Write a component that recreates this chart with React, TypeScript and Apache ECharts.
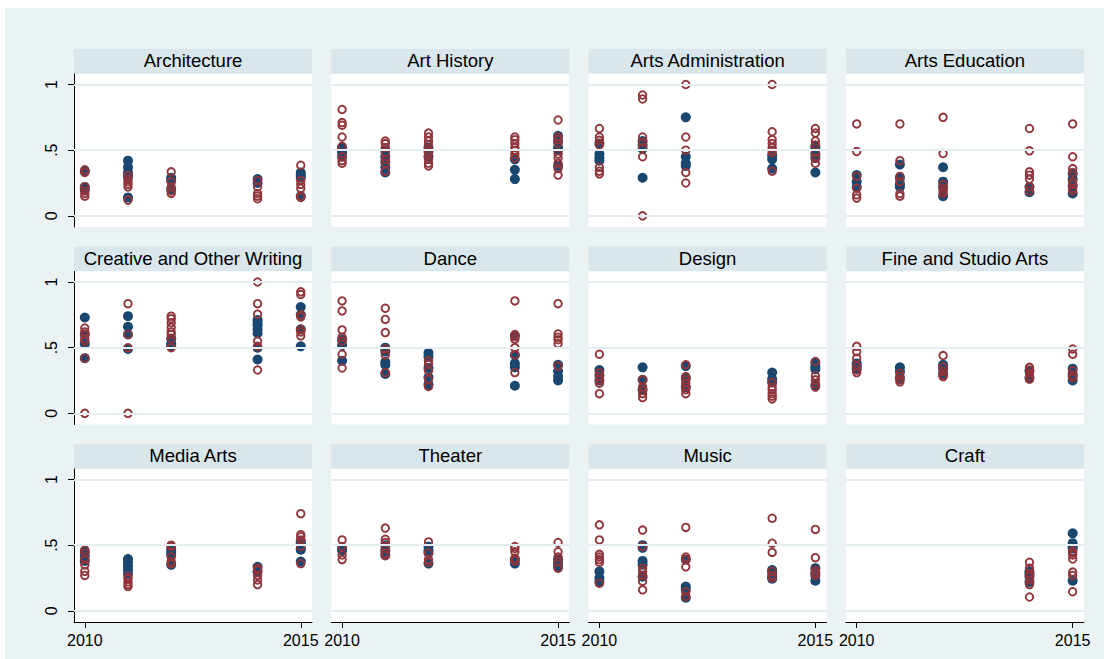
import React, { useEffect, useRef } from "react";
import * as echarts from "echarts";

// ---------- data ----------
const years = [2010, 2011, 2012, 2014, 2015];
const xTickValues = [2010, 2015];
const yTickValues = [0, 0.5, 1];
const yTickLabels = ["0", ".5", "1"];

const panelTitles = [
  "Architecture", "Art History", "Arts Administration", "Arts Education",
  "Creative and Other Writing", "Dance", "Design", "Fine and Studio Arts",
  "Media Arts", "Theater", "Music", "Craft",
];

// values per year (same order as `years`)
const architectureBlue = [[0.34, 0.22, 0.20], [0.42, 0.37, 0.33, 0.30, 0.14], [0.29, 0.27, 0.20], [0.28, 0.25], [0.33, 0.31, 0.29, 0.15]];
const architectureRed = [[0.35, 0.33, 0.22, 0.19, 0.17, 0.15], [0.31, 0.28, 0.26, 0.24, 0.22, 0.12], [0.335, 0.26, 0.22, 0.19, 0.17], [0.27, 0.22, 0.17, 0.15, 0.13], [0.385, 0.27, 0.24, 0.21, 0.15, 0.14]];

const artHistoryBlue = [[0.52, 0.50, 0.48, 0.45], [0.50, 0.45, 0.41, 0.37, 0.33], [0.52, 0.49, 0.45], [0.43, 0.35, 0.28], [0.61, 0.57, 0.52, 0.50, 0.38]];
const artHistoryRed = [[0.81, 0.71, 0.69, 0.60, 0.53, 0.45, 0.42, 0.40], [0.57, 0.55, 0.52, 0.48, 0.43, 0.40, 0.34], [0.63, 0.60, 0.57, 0.54, 0.50, 0.47, 0.43, 0.40, 0.38], [0.60, 0.58, 0.55, 0.52, 0.50, 0.47, 0.44], [0.73, 0.60, 0.58, 0.55, 0.47, 0.44, 0.40, 0.36, 0.31]];

const artsAdminBlue = [[0.55, 0.47, 0.44, 0.42], [0.57, 0.54, 0.51, 0.29], [0.75, 0.45, 0.40, 0.38], [0.46, 0.43, 0.36], [0.53, 0.51, 0.47, 0.44, 0.33]];
const artsAdminRed = [[0.665, 0.60, 0.575, 0.54, 0.37, 0.34, 0.32], [0.92, 0.89, 0.60, 0.56, 0.52, 0.45, 0.0], [1.0, 0.60, 0.50, 0.33, 0.25], [1.0, 0.64, 0.58, 0.55, 0.52, 0.50, 0.48, 0.34], [0.665, 0.63, 0.57, 0.54, 0.48, 0.44, 0.40]];

const artsEducationBlue = [[0.31, 0.26, 0.22], [0.39, 0.29, 0.24, 0.22], [0.37, 0.26, 0.22, 0.15], [0.22, 0.18], [0.32, 0.28, 0.23, 0.17]];
const artsEducationRed = [[0.70, 0.49, 0.30, 0.21, 0.16, 0.135], [0.70, 0.42, 0.30, 0.26, 0.17, 0.15], [0.75, 0.475, 0.24, 0.21, 0.19, 0.17], [0.665, 0.495, 0.335, 0.31, 0.28, 0.22, 0.19], [0.70, 0.45, 0.36, 0.33, 0.26, 0.24, 0.21, 0.19]];

const writingBlue = [[0.73, 0.60, 0.53, 0.42], [0.74, 0.66, 0.60, 0.49], [0.57, 0.53, 0.51], [0.71, 0.69, 0.67, 0.64, 0.61, 0.50, 0.41], [0.81, 0.75, 0.64, 0.51]];
const writingRed = [[0.65, 0.62, 0.60, 0.57, 0.55, 0.42, 0.0], [0.835, 0.60, 0.50, 0.0], [0.74, 0.72, 0.69, 0.655, 0.62, 0.60, 0.57, 0.50], [1.0, 0.835, 0.755, 0.55, 0.51, 0.33], [0.925, 0.905, 0.75, 0.735, 0.64, 0.62, 0.59]];

const danceBlue = [[0.56, 0.52, 0.40], [0.50, 0.47, 0.39, 0.37, 0.30], [0.46, 0.43, 0.345, 0.275, 0.22], [0.59, 0.445, 0.38, 0.35, 0.21], [0.37, 0.32, 0.28, 0.25]];
const danceRed = [[0.856, 0.78, 0.635, 0.58, 0.55, 0.45, 0.345], [0.80, 0.715, 0.615, 0.49, 0.445, 0.31], [0.40, 0.375, 0.325, 0.26, 0.205], [0.856, 0.60, 0.585, 0.565, 0.50, 0.445, 0.31], [0.835, 0.605, 0.58, 0.56, 0.53, 0.36]];

const designBlue = [[0.33, 0.29, 0.25], [0.35, 0.255, 0.18], [0.36, 0.27, 0.20], [0.31, 0.26, 0.235], [0.385, 0.355, 0.335, 0.21]];
const designRed = [[0.45, 0.31, 0.28, 0.255, 0.23, 0.15], [0.255, 0.20, 0.175, 0.15, 0.12], [0.37, 0.28, 0.255, 0.23, 0.205, 0.18, 0.15], [0.235, 0.20, 0.18, 0.15, 0.13, 0.11], [0.395, 0.285, 0.255, 0.225, 0.20]];

const fineArtsBlue = [[0.38, 0.36, 0.34], [0.35, 0.32, 0.27], [0.37, 0.34, 0.30], [0.325, 0.27], [0.34, 0.30, 0.28, 0.25]];
const fineArtsRed = [[0.51, 0.47, 0.42, 0.36, 0.33, 0.31], [0.305, 0.28, 0.255, 0.24], [0.44, 0.355, 0.32, 0.29, 0.28], [0.35, 0.33, 0.305, 0.28, 0.26], [0.49, 0.45, 0.325, 0.29, 0.27]];

const mediaArtsBlue = [[0.45, 0.42, 0.38], [0.395, 0.37, 0.34, 0.31, 0.28], [0.475, 0.45, 0.425, 0.35], [0.335, 0.30], [0.53, 0.515, 0.475, 0.465, 0.375]];
const mediaArtsRed = [[0.465, 0.44, 0.39, 0.35, 0.30, 0.27], [0.26, 0.245, 0.22, 0.20, 0.185], [0.50, 0.49, 0.41, 0.375, 0.36], [0.325, 0.31, 0.27, 0.235, 0.20], [0.74, 0.58, 0.565, 0.54, 0.49, 0.36]];

const theaterBlue = [[0.475, 0.46], [0.50, 0.46, 0.425], [0.49, 0.46, 0.44, 0.36], [0.39, 0.36], [0.39, 0.36, 0.335]];
const theaterRed = [[0.54, 0.49, 0.425, 0.39], [0.63, 0.545, 0.52, 0.475, 0.44, 0.42], [0.525, 0.44, 0.39, 0.37], [0.49, 0.475, 0.45, 0.40, 0.38], [0.52, 0.45, 0.41, 0.375, 0.325]];

const musicBlue = [[0.30, 0.25, 0.22], [0.50, 0.48, 0.38, 0.35, 0.26], [0.39, 0.185, 0.16, 0.10], [0.31, 0.29, 0.26, 0.245], [0.325, 0.29, 0.27, 0.23]];
const musicRed = [[0.655, 0.54, 0.43, 0.41, 0.39, 0.37, 0.21], [0.615, 0.49, 0.325, 0.30, 0.27, 0.225, 0.16], [0.635, 0.41, 0.39, 0.335, 0.145, 0.11], [0.705, 0.515, 0.445, 0.30, 0.27, 0.25], [0.62, 0.405, 0.31, 0.29, 0.27]];

const craftBlue = [[], [], [], [0.30, 0.28, 0.26, 0.22], [0.59, 0.515, 0.49, 0.475, 0.23]];
const craftRed = [[], [], [], [0.37, 0.325, 0.285, 0.26, 0.235, 0.20, 0.105], [0.455, 0.44, 0.425, 0.395, 0.295, 0.27, 0.145]];

const blueSets = [architectureBlue, artHistoryBlue, artsAdminBlue, artsEducationBlue, writingBlue, danceBlue, designBlue, fineArtsBlue, mediaArtsBlue, theaterBlue, musicBlue, craftBlue];
const redSets = [architectureRed, artHistoryRed, artsAdminRed, artsEducationRed, writingRed, danceRed, designRed, fineArtsRed, mediaArtsRed, theaterRed, musicRed, craftRed];

// ---------- style ----------
const BG = "#EAF2F3";
const STRIP = "#D9E6EB";
const GRIDLINE = "#E4EDF0";
const NAVY = "#1A476F";
const MAROON = "#90353B";
const FONT = "'Liberation Sans', Arial, sans-serif";

const COLS = 4;
const PLOT_LEFT0 = 74;
const COL_STEP = 257.3;
const PLOT_W = 238;
const PLOT_TOP0 = 74;
const ROW_STEP = 197.5;
const PLOT_H = 153;
const STRIP_H = 24.5;

function toPoints(sets: number[][]) {
  const pts: number[][] = [];
  sets.forEach((vals, i) => vals.forEach((v) => pts.push([years[i], v])));
  return pts;
}

function buildOption() {
  const grid: any[] = [];
  const xAxis: any[] = [];
  const yAxis: any[] = [];
  const series: any[] = [];
  const graphic: any[] = [
    { type: "rect", silent: true, z: -10, shape: { x: 0, y: 0, width: 1104, height: 8 }, style: { fill: "#fff" } },
    { type: "rect", silent: true, z: -10, shape: { x: 0, y: 0, width: 5, height: 659 }, style: { fill: "#fff" } },
  ];

  panelTitles.forEach((title, i) => {
    const r = Math.floor(i / COLS);
    const c = i % COLS;
    const left = PLOT_LEFT0 + c * COL_STEP;
    const top = PLOT_TOP0 + r * ROW_STEP;
    const isBottom = r === 2;
    const isLeft = c === 0;

    grid.push({ left, top, width: PLOT_W, height: PLOT_H, show: true, backgroundColor: "#fff", borderWidth: 0 });

    xAxis.push({
      type: "value", gridIndex: i, min: 2009.75, max: 2015.26,
      splitLine: { show: false },
      axisLine: { show: isBottom, onZero: false, lineStyle: { color: "#000", width: 1 } },
      axisTick: { show: isBottom, customValues: xTickValues, length: 6, lineStyle: { color: "#000" } },
      axisLabel: { show: isBottom, customValues: xTickValues, fontSize: 16, color: "#000", fontFamily: FONT, margin: 10, formatter: (v: number) => String(v) },
    });

    yAxis.push({
      type: "value", gridIndex: i, min: -0.085, max: 1.08,
      splitLine: { show: false },
      axisLine: { show: isLeft, onZero: false, lineStyle: { color: "#000", width: 1 } },
      axisTick: { show: isLeft, customValues: yTickValues, length: 6, lineStyle: { color: "#000" } },
      axisLabel: {
        show: isLeft, customValues: yTickValues, rotate: 90, fontSize: 16, color: "#000", fontFamily: FONT, margin: 15,
        formatter: (v: number) => yTickLabels[yTickValues.indexOf(v)] ?? String(v),
      },
    });

    series.push({
      type: "line", xAxisIndex: i, yAxisIndex: i, data: [], z: 1, silent: true,
      markLine: {
        silent: true, symbol: "none", animation: false,
        label: { show: false },
        lineStyle: { color: GRIDLINE, width: 2, type: "solid" },
        data: yTickValues.map((v) => ({ yAxis: v })),
      },
    });
    series.push({
      type: "scatter", xAxisIndex: i, yAxisIndex: i, z: 2,
      symbol: "circle", symbolSize: 10,
      itemStyle: { color: NAVY, opacity: 1 },
      data: toPoints(blueSets[i]),
    });
    series.push({
      type: "scatter", xAxisIndex: i, yAxisIndex: i, z: 3,
      symbol: "circle", symbolSize: 7.5,
      itemStyle: { color: "rgba(0,0,0,0)", borderColor: MAROON, borderWidth: 1.9, opacity: 1 },
      data: toPoints(redSets[i]),
    });

    graphic.push({
      type: "rect", silent: true,
      shape: { x: left, y: top - STRIP_H - 0.5, width: PLOT_W, height: STRIP_H },
      style: { fill: STRIP },
    });
    graphic.push({
      type: "text", silent: true,
      x: left + PLOT_W / 2, y: top - STRIP_H / 2 - 1,
      style: { text: title, fill: "#000", fontSize: 18.5, fontFamily: FONT, align: "center", verticalAlign: "middle" },
    });
  });

  return {
    animation: false,
    backgroundColor: BG,
    grid, xAxis, yAxis, series, graphic,
  };
}

export default function App() {
  const ref = useRef<HTMLDivElement>(null);
  useEffect(() => {
    if (!ref.current) return;
    const chart = echarts.init(ref.current, undefined, { renderer: "svg" });
    chart.setOption(buildOption() as any);
    return () => chart.dispose();
  }, []);
  return (
    <div style={{ position: "absolute", left: 0, top: 0, width: 1104, height: 659, background: "#fff" }}>
      <div ref={ref} style={{ width: 1104, height: 659 }} />
    </div>
  );
}
